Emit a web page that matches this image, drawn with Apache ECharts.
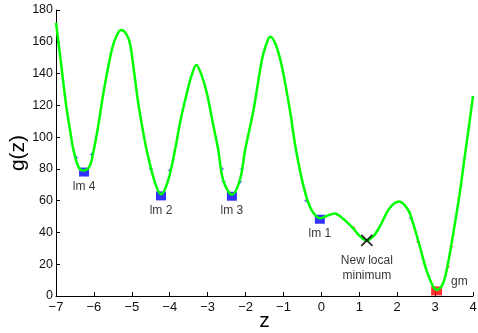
<!DOCTYPE html>
<html>
<head>
<meta charset="utf-8">
<script src="https://cdn.jsdelivr.net/npm/echarts@6/dist/echarts.min.js"></script>
<style>
  html, body { margin: 0; padding: 0; background: #fff; }
  #chart { width: 478px; height: 333px; }
</style>
</head>
<body>
<div id="chart"></div>
<script>
// g(z) sampled along z
const curveZ = [-7.00, -6.87, -6.74, -6.62, -6.54, -6.41, -6.28, -6.12, -6.02, -5.88, -5.75, -5.53, -5.40, -5.28, -5.15, -5.05, -4.94, -4.83, -4.70, -4.61, -4.41, -4.23, -4.04, -3.86, -3.72, -3.55, -3.42, -3.30, -3.16, -3.02, -2.86, -2.72, -2.59, -2.36, -2.15, -2.01, -1.79, -1.57, -1.46, -1.35, -1.20, -1.04, -0.83, -0.67, -0.47, -0.30, -0.15, -0.03, 0.15, 0.35, 0.50, 0.66, 0.84, 1.00, 1.19, 1.35, 1.54, 1.80, 2.05, 2.29, 2.42, 2.60, 2.77, 2.95, 3.05, 3.21, 3.34, 3.48, 3.65, 3.77, 3.90, 4.00];
const curveG = [172, 147, 121.3, 103, 92, 81.4, 79, 81.4, 90, 108, 127.6, 154.8, 164, 167.4, 165, 159, 141, 121.3, 103, 92, 73, 64, 73, 92, 110, 127.6, 139, 145.4, 139, 127.6, 108.5, 92, 73, 63.8, 73, 92, 117, 148.5, 158, 163.2, 158, 144.3, 117, 92, 69, 56, 50.5, 49, 50.5, 52, 50, 46.8, 42.6, 38, 35, 37, 43.6, 55.2, 59.4, 54.1, 45.7, 31, 16.4, 5.9, 4, 8, 20.6, 39.5, 64.6, 85.6, 108, 126];

// local minima found by the search
const lmNames = ['lm 4', 'lm 2', 'lm 3', 'lm 1'];
const lmZ = [-6.26, -4.23, -2.36, -0.04];
const lmG = [78, 63, 62.8, 48.3];

// global minimum
const gmZ = [3.04];
const gmG = [3.2];

// newly discovered local minimum
const newZ = [1.2];
const newG = [35];

// intermediate sample points
const blueSampleZ = [-6.46, -6.06, -4.50, -4.00, -2.62, -2.58, -2.14, -2.10, -0.40, 2.36];
const blueSampleG = [87, 89, 80, 79, 80, 72, 72, 80, 60, 49];
const redSampleZ = [0.85, 2.55, 3.34, 3.43];
const redSampleG = [42.8, 34.2, 18.4, 31];

const xTicks = { min: -7, max: 4, step: 1 };
const yTicks = { min: 0, max: 180, step: 20 };

const font = 'Liberation Sans, Arial, Helvetica, sans-serif';
const pairs = (xs, ys) => xs.map((x, i) => [x, ys[i]]);

const chart = echarts.init(document.getElementById('chart'), null, { renderer: 'canvas' });

const labelBelow = (text, dy) => ({
  show: true,
  position: 'bottom',
  distance: dy,
  formatter: text,
  color: '#000',
  fontFamily: font,
  fontSize: 12
});

chart.setOption({
  animation: false,
  backgroundColor: '#fff',
  grid: { left: 56, right: 5, top: 10, bottom: 37, containLabel: false, outerBoundsMode: 'none' },
  xAxis: {
    type: 'value',
    min: xTicks.min,
    max: xTicks.max,
    interval: xTicks.step,
    name: 'z',
    nameLocation: 'middle',
    nameGap: 15,
    nameMoveOverlap: false,
    nameTextStyle: { fontFamily: font, fontSize: 21, color: '#000' },
    axisLine: { show: true, onZero: false, lineStyle: { color: '#000', width: 1 } },
    axisTick: { show: true, inside: true, length: 4, lineStyle: { color: '#000' } },
    axisLabel: {
      color: '#111', fontFamily: font, fontSize: 13, margin: 5,
      formatter: v => String(v).replace('-', '\u2212')
    },
    splitLine: { show: false }
  },
  yAxis: {
    type: 'value',
    min: yTicks.min,
    max: yTicks.max,
    interval: yTicks.step,
    name: 'g(z)',
    nameLocation: 'middle',
    nameGap: 27,
    nameMoveOverlap: false,
    nameRotate: 90,
    nameTextStyle: { fontFamily: font, fontSize: 21, color: '#000' },
    axisLine: { show: true, onZero: false, lineStyle: { color: '#000', width: 1 } },
    axisTick: { show: true, inside: true, length: 4, lineStyle: { color: '#000' } },
    axisLabel: { color: '#111', fontFamily: font, fontSize: 12.5, margin: 3 },
    splitLine: { show: false }
  },
  series: [
    {
      type: 'scatter',
      data: pairs(blueSampleZ, blueSampleG),
      symbol: 'path://M0,5H10M5,0V10',
      symbolSize: 4,
      itemStyle: { color: 'none', borderColor: '#3344ff', borderWidth: 1 },
      z: 1
    },
    {
      type: 'scatter',
      data: pairs(redSampleZ, redSampleG),
      symbol: 'path://M0,5H10M5,0V10',
      symbolSize: 4,
      itemStyle: { color: 'none', borderColor: '#ff3333', borderWidth: 1 },
      z: 1
    },
    {
      type: 'scatter',
      data: pairs(lmZ, lmG).map((p, i) => ({ value: p, label: labelBelow(lmNames[i], 4) })),
      symbol: 'rect',
      symbolSize: [10, 9],
      itemStyle: { color: '#0000ff' },
      z: 2
    },
    {
      type: 'scatter',
      data: pairs(gmZ, gmG).map(p => ({
        value: p,
        label: {
          show: true, position: 'right', distance: 9, offset: [0, -9],
          formatter: 'gm', color: '#000', fontFamily: font, fontSize: 12
        }
      })),
      symbol: 'rect',
      symbolSize: [11, 9],
      itemStyle: { color: '#ff0000' },
      z: 2
    },
    {
      type: 'line',
      data: pairs(curveZ, curveG),
      smooth: 0.35,
      showSymbol: false,
      lineStyle: { color: '#00ff00', width: 2.5 },
      z: 3
    },
    {
      type: 'scatter',
      data: pairs(newZ, newG).map(p => ({
        value: p,
        label: {
          show: true, position: 'bottom', distance: 5,
          formatter: 'New local\nminimum', lineHeight: 15,
          color: '#000', fontFamily: font, fontSize: 12
        }
      })),
      symbol: 'path://M0,0L10,10M10,0L0,10',
      symbolSize: 11,
      itemStyle: { color: 'none', borderColor: '#000', borderWidth: 2 },
      z: 4
    }
  ]
});
</script>
</body>
</html>
